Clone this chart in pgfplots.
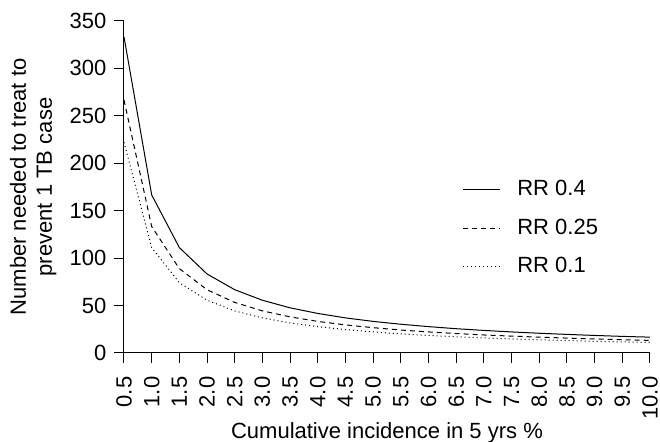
\documentclass[border=0pt]{standalone}
\usepackage{pgfplots}
\pgfplotsset{compat=1.18}
\usepackage{fontspec}
\setmainfont{Liberation Sans}
\begin{document}
\fontsize{11}{13}\selectfont
\begin{tikzpicture}
\begin{axis}[
  width=263pt, height=166pt, scale only axis,
  xmin=0.5, xmax=10, ymin=0, ymax=350,
  axis x line*=bottom, axis y line*=left,
  xtick={0.5,1,...,10}, ytick={0,50,...,350},
  tick align=outside, major tick length=5pt,
  tick style={black, line width=0.5pt},
  axis line style={line width=0.5pt},
  /pgf/number format/assume math mode=true,
  xticklabel style={/pgf/number format/.cd, fixed, fixed zerofill, precision=1, /tikz/.cd, rotate=90, anchor=east},
  xticklabel shift=3pt,
  yticklabel style={/pgf/number format/.cd, fixed, precision=0},
  xlabel={Cumulative incidence in 5 yrs \%},
  xlabel style={at={(rel axis cs:0.5,0)}, anchor=base, yshift=-43pt},
  ylabel={Number needed to treat to\\prevent 1 TB case},
  ylabel style={align=center, yshift=-1pt},
  legend style={draw=none, fill=none, at={(0.632,0.546)}, anchor=north west, row sep=6pt, font=\fontsize{11}{13}\selectfont,
    /tikz/every odd column/.append style={column sep=6.25pt}},
  legend cell align=left,
  legend image code/.code={\draw[#1] (0pt,0pt) -- (18.5pt,0pt);},
  every axis plot/.append style={line width=0.5pt, black},
]
\addplot[solid] coordinates {(0.5,333.3)(1,166.7)(1.5,111.1)(2,83.3)(2.5,66.7)(3,55.6)(3.5,47.6)(4,41.7)(4.5,37.0)(5,33.3)(5.5,30.3)(6,27.8)(6.5,25.6)(7,23.8)(7.5,22.2)(8,20.8)(8.5,19.6)(9,18.5)(9.5,17.5)(10,16.7)};
\addlegendentry{RR 0.4}
\addplot[dash pattern=on 2.5pt off 2pt] coordinates {(0.5,266.7)(1,133.3)(1.5,88.9)(2,66.7)(2.5,53.3)(3,44.4)(3.5,38.1)(4,33.3)(4.5,29.6)(5,26.7)(5.5,24.2)(6,22.2)(6.5,20.5)(7,19.0)(7.5,17.8)(8,16.7)(8.5,15.7)(9,14.8)(9.5,14.0)(10,13.3)};
\addlegendentry{RR 0.25}
\addplot[dash pattern=on 0.5pt off 1.5pt] coordinates {(0.5,222.2)(1,111.1)(1.5,74.1)(2,55.6)(2.5,44.4)(3,37.0)(3.5,31.7)(4,27.8)(4.5,24.7)(5,22.2)(5.5,20.2)(6,18.5)(6.5,17.1)(7,15.9)(7.5,14.8)(8,13.9)(8.5,13.1)(9,12.3)(9.5,11.7)(10,11.1)};
\addlegendentry{RR 0.1}
\coordinate (sw) at (rel axis cs:0,0);
\coordinate (ne) at (rel axis cs:1,1);
\end{axis}
\pgfresetboundingbox
\path[use as bounding box] ([xshift=-62pt,yshift=-44.5pt]sw) rectangle ([xshift=5pt,yshift=10.5pt]ne);
\end{tikzpicture}
\end{document}
